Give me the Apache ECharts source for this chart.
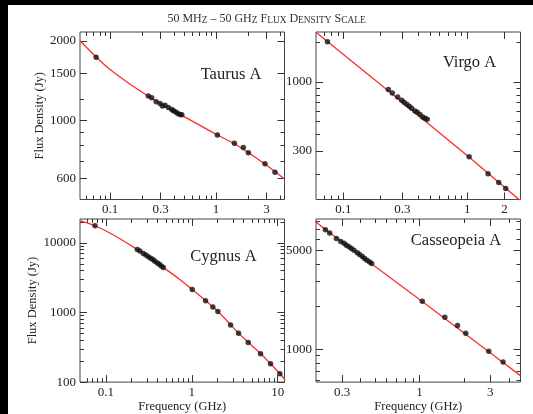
<!DOCTYPE html>
<html><head><meta charset="utf-8">
<script src="https://cdn.jsdelivr.net/npm/echarts@6/dist/echarts.min.js"></script>
<style>html,body{margin:0;padding:0;background:#fff}#c{width:533px;height:414px}</style>
</head><body><div id="c"></div>
<script>
// ---------------- data ----------------
const panelNames = ['Taurus A', 'Virgo A', 'Cygnus A', 'Casseopeia A'];

// Taurus A
const taurusFreq = [0.0738, 0.2297, 0.247, 0.272, 0.296, 0.312, 0.330, 0.355, 0.382, 0.396, 0.417, 0.435, 0.457, 0.475, 1.03, 1.49, 1.81, 2.02, 2.90, 3.60];
const taurusFlux = [1733, 1234, 1216, 1174, 1157, 1131, 1138, 1118, 1098, 1085, 1073, 1060, 1051, 1048, 879, 817, 787, 753, 684, 634];
const taurusFitFreq = [0.052, 0.074, 0.1, 0.15, 0.23, 0.3, 0.4, 0.5, 0.7, 1, 1.5, 2, 3, 4.43];
const taurusFitFlux = [2000, 1735, 1555, 1380, 1232, 1156, 1083, 1031, 958, 884, 812, 756, 674, 598];

// Virgo A
const virgoFreq = [0.0743, 0.2307, 0.2485, 0.2746, 0.2958, 0.3087, 0.3245, 0.3405, 0.356, 0.3786, 0.395, 0.4154, 0.4368, 0.456, 0.4757, 1.038, 1.476, 1.80, 2.05];
const virgoFlux = [2023, 876, 825, 770, 727, 702, 678, 655, 632, 603, 589, 566, 543, 531, 522, 270, 201, 172, 155];
const virgoFitFreq = [0.06, 0.23, 1.04, 2.7];
const virgoFitFlux = [2390, 860, 268, 125];

// Cygnus A
const cygnusFreq = [0.0747, 0.2324, 0.249, 0.273, 0.2925, 0.312, 0.332, 0.353, 0.372, 0.397, 0.419, 0.442, 0.4665, 1.013, 1.447, 1.759, 2.012, 2.826, 3.50, 4.54, 6.31, 8.25, 10.6];
const cygnusFlux = [17580, 8036, 7610, 7055, 6674, 6335, 5994, 5745, 5433, 5140, 4930, 4663, 4426, 2131, 1475, 1200, 1030, 659, 502, 371, 256, 183, 132];
const cygnusFitFreq = [0.05, 0.0747, 0.12, 0.232, 0.33, 0.4665, 0.7, 1.013, 1.45, 2.01, 2.83, 3.5, 4.54, 6.3, 8.25, 10.6, 12.1];
const cygnusFitFlux = [20900, 17600, 13200, 8030, 6000, 4430, 3080, 2135, 1475, 1030, 670, 505, 375, 257, 183, 132, 110];

// Cassiopeia A
const casFreq = [0.2314, 0.2474, 0.2747, 0.2937, 0.309, 0.3207, 0.3338, 0.3465, 0.361, 0.380, 0.394, 0.411, 0.4258, 0.4416, 0.4605, 0.4746, 1.043, 1.481, 1.803, 2.05, 2.93, 3.66];
const casFlux = [6970, 6610, 6033, 5750, 5594, 5417, 5280, 5138, 5000, 4797, 4667, 4519, 4375, 4238, 4125, 4018, 2183, 1680, 1469, 1293, 968, 812];
const casFitFreq = [0.198, 0.2314, 1.043, 3.66, 4.8];
const casFitFlux = [7960, 7000, 2170, 805, 650];

// axis ranges
const taurusXRange = [0.052, 4.43], taurusYRange = [500, 2160];
const virgoXRange = [0.06, 2.7], virgoYRange = [128, 2400];
const cygnusXRange = [0.05, 12], cygnusYRange = [100, 22000];
const casXRange = [0.2, 4.8], casYRange = [585, 8300];

// tick labels (major) and minor ticks
const taurusXLabels = [0.1, 0.3, 1, 3];
const taurusXMinor = [0.06, 0.07, 0.08, 0.09, 0.2, 0.4, 0.5, 0.6, 0.7, 0.8, 0.9, 2, 4];
const taurusYLabels = [600, 1000, 1500, 2000];
const taurusYMinor = [700, 800, 900, 1200];
const virgoXLabels = [0.1, 0.3, 1, 2];
const virgoXMinor = [0.07, 0.08, 0.09, 0.2, 0.4, 0.5, 0.6, 0.7, 0.8, 0.9];
const virgoYLabels = [300, 1000];
const virgoYMinor = [200, 400, 500, 600, 700, 800, 900, 2000];
const cygnusXLabels = [0.1, 1, 10];
const cygnusXMinor = [0.06, 0.07, 0.08, 0.09, 0.2, 0.3, 0.4, 0.5, 0.6, 0.7, 0.8, 0.9, 2, 3, 4, 5, 6, 7, 8, 9];
const cygnusYLabels = [100, 1000, 10000];
const cygnusYMinor = [200, 300, 400, 500, 600, 700, 800, 900, 2000, 3000, 4000, 5000, 6000, 7000, 8000, 9000, 20000];
const casXLabels = [0.3, 1, 3];
const casXMinor = [0.4, 0.5, 0.6, 0.7, 0.8, 0.9, 2, 4];
const casYLabels = [1000, 5000];
const casYMinor = [600, 700, 800, 900, 2000, 3000, 4000, 6000, 7000, 8000];

const titleText = '50 MH{s|Z} – 50 GH{s|Z} F{s|LUX} D{s|ENSITY} S{s|CALE}';
const yTitle = 'Flux Density (Jy)';
const xTitle = 'Frequency (GHz)';

// ---------------- layout / style ----------------
const FONT = 'Liberation Serif, Times New Roman, serif';
const grids = [
  {left: 80, top: 32, width: 204.5, height: 167.5},
  {left: 316, top: 32, width: 204.5, height: 167.5},
  {left: 80, top: 219, width: 204.5, height: 165.5},
  {left: 316, top: 219, width: 204.5, height: 165.5}
];
const panels = [
  {fx: taurusFreq, fy: taurusFlux, cx: taurusFitFreq, cy: taurusFitFlux, xr: taurusXRange, yr: taurusYRange, xl: taurusXLabels, xm: taurusXMinor, yl: taurusYLabels, ym: taurusYMinor, smooth: true},
  {fx: virgoFreq, fy: virgoFlux, cx: virgoFitFreq, cy: virgoFitFlux, xr: virgoXRange, yr: virgoYRange, xl: virgoXLabels, xm: virgoXMinor, yl: virgoYLabels, ym: virgoYMinor, smooth: false},
  {fx: cygnusFreq, fy: cygnusFlux, cx: cygnusFitFreq, cy: cygnusFitFlux, xr: cygnusXRange, yr: cygnusYRange, xl: cygnusXLabels, xm: cygnusXMinor, yl: cygnusYLabels, ym: cygnusYMinor, smooth: true},
  {fx: casFreq, fy: casFlux, cx: casFitFreq, cy: casFitFlux, xr: casXRange, yr: casYRange, xl: casXLabels, xm: casXMinor, yl: casYLabels, ym: casYMinor, smooth: false}
];
const labelPos = [[231, 75], [469.5, 63], [223.5, 257], [456, 241]];

const fmt = v => String(+(+v).toPrecision(6));
function mkAxis(dim, gi, pos, range, ticks, len, showLabel, extra) {
  return Object.assign({
    type: 'log', logBase: 10, gridIndex: gi, position: pos,
    min: range[0], max: range[1],
    axisLine: {show: false, onZero: false},
    splitLine: {show: false},
    minorTick: {show: false},
    axisTick: {show: true, inside: true, length: len, customValues: ticks, lineStyle: {color: '#333', width: 1}},
    axisLabel: {show: showLabel, customValues: ticks, formatter: fmt, margin: 4,
      fontFamily: FONT, fontSize: 13, color: '#222'}
  }, extra || {});
}

const xAxes = [], yAxes = [], series = [];
panels.forEach((p, g) => {
  const xName = (g >= 2) ? {name: xTitle, nameLocation: 'middle', nameGap: 17.5,
    nameTextStyle: {fontFamily: FONT, fontSize: 12.5, color: '#222'}} : {};
  const yName = (g % 2 === 0) ? {name: yTitle, nameLocation: 'middle', nameGap: g === 0 ? 30 : 38,
    nameTextStyle: {fontFamily: FONT, fontSize: 12.5, color: '#222'}} : {};
  xAxes.push(mkAxis('x', g, 'bottom', p.xr, p.xl, 7, true, xName));
  xAxes.push(mkAxis('x', g, 'bottom', p.xr, p.xm, 4, false));
  xAxes.push(mkAxis('x', g, 'top', p.xr, p.xl, 7, false));
  xAxes.push(mkAxis('x', g, 'top', p.xr, p.xm, 4, false));
  yAxes.push(mkAxis('y', g, 'left', p.yr, p.yl, 7, true, yName));
  yAxes.push(mkAxis('y', g, 'left', p.yr, p.ym, 4, false));
  yAxes.push(mkAxis('y', g, 'right', p.yr, p.yl, 7, false));
  yAxes.push(mkAxis('y', g, 'right', p.yr, p.ym, 4, false));
  series.push({
    type: 'line', xAxisIndex: g * 4, yAxisIndex: g * 4,
    data: p.cx.map((f, i) => [f, p.cy[i]]),
    smooth: p.smooth ? 0.35 : false, showSymbol: false, clip: true,
    lineStyle: {color: '#ff2b2b', width: 1.3}, z: 2
  });
  series.push({
    type: 'scatter', xAxisIndex: g * 4, yAxisIndex: g * 4,
    data: p.fx.map((f, i) => [f, p.fy[i]]),
    symbolSize: 5.5, itemStyle: {color: '#111'}, z: 3
  });
});

const graphics = [
  {type: 'rect', shape: {x: 0, y: 0, width: 533, height: 5}, style: {fill: '#000'}, z: 100},
  {type: 'rect', shape: {x: 0, y: 0, width: 8, height: 414}, style: {fill: '#000'}, z: 100}
];
panelNames.forEach((n, i) => {
  graphics.push({type: 'text', x: labelPos[i][0], y: labelPos[i][1], z: 50,
    style: {text: n, fontFamily: FONT, fontSize: 16.5, fill: '#222', align: 'center', verticalAlign: 'middle'}});
});

const chart = echarts.init(document.getElementById('c'), null, {renderer: 'canvas'});
chart.setOption({
  animation: false,
  backgroundColor: '#fff',
  title: {
    text: titleText, left: 'center', top: 8,
    textStyle: {fontFamily: FONT, fontSize: 12, fontWeight: 'normal', color: '#333',
      rich: {s: {fontFamily: FONT, fontSize: 9.4, color: '#333', verticalAlign: 'bottom', lineHeight: 12}}}
  },
  grid: grids.map(g => Object.assign({show: true, borderColor: '#444', borderWidth: 1, containLabel: false}, g)),
  xAxis: xAxes,
  yAxis: yAxes,
  series: series,
  graphic: graphics
});
</script></body></html>
